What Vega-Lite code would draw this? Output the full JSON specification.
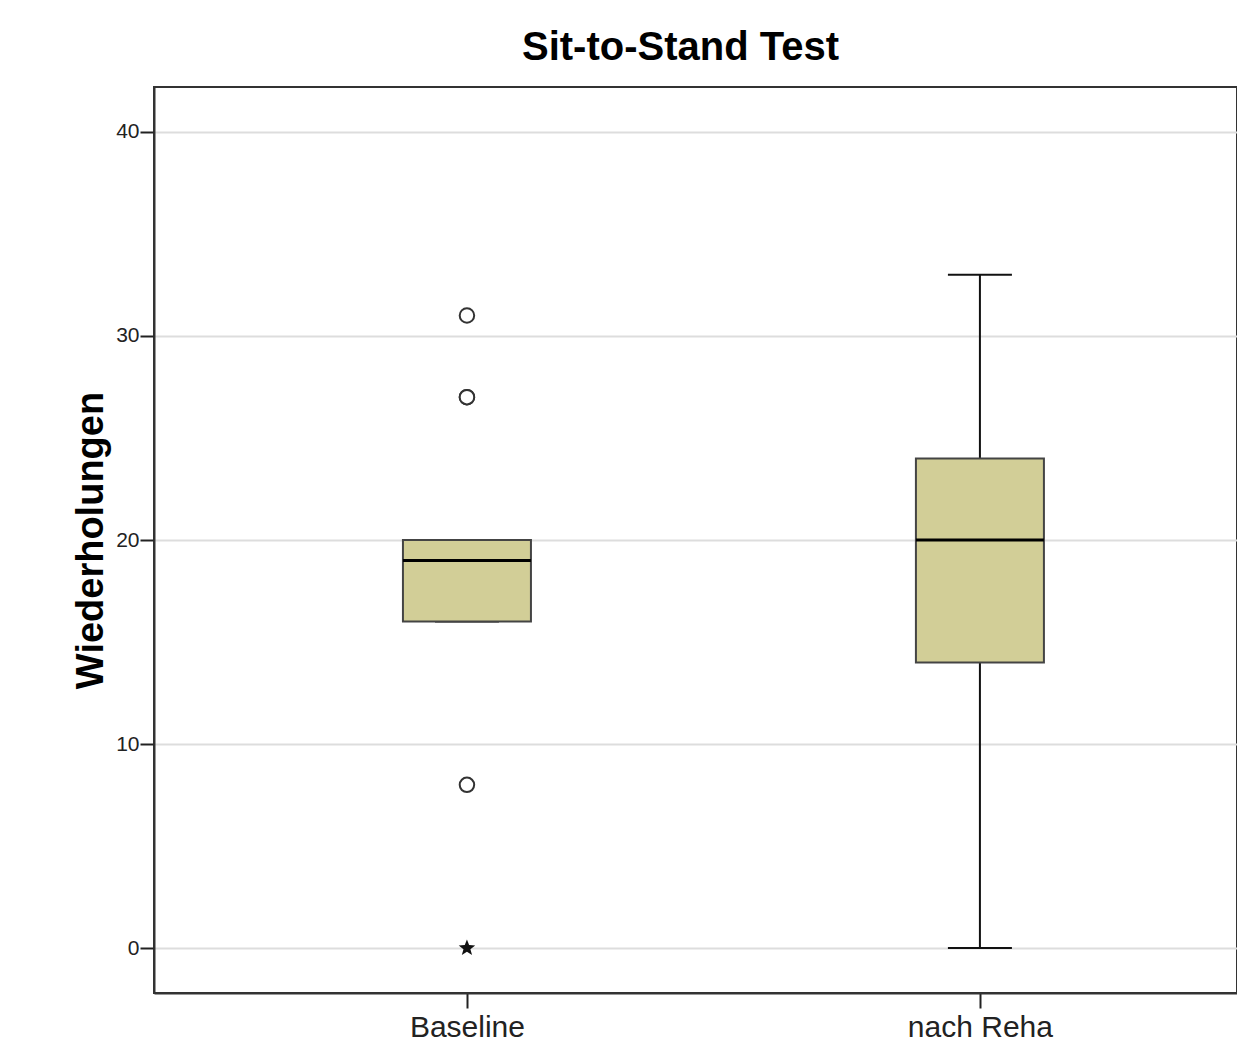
{
  "$schema": "https://vega.github.io/schema/vega-lite/v6.json",
  "autosize": {"type": "none"},
  "padding": {"left": 154, "top": 87, "right": 0, "bottom": 56},
  "width": 1083,
  "height": 906,
  "background": "white",
  "title": {
    "text": "Sit-to-Stand Test",
    "font": "Liberation Sans",
    "fontSize": 40,
    "fontWeight": "bold",
    "color": "#000000",
    "anchor": "middle",
    "baseline": "alphabetic",
    "dx": -15,
    "offset": -13
  },
  "config": {
    "view": {"stroke": "#333333", "strokeWidth": 2},
    "axis": {"labelFont": "Liberation Sans", "titleFont": "Liberation Sans"}
  },
  "datasets": {
    "boxes": [
      {"group": "Baseline", "lower": 16, "q1": 16, "median": 19, "q3": 20, "upper": 20},
      {"group": "nach Reha", "lower": 0, "q1": 14, "median": 20, "q3": 24, "upper": 33}
    ],
    "outliers": [
      {"group": "Baseline", "value": 31, "kind": "Ausreißer"},
      {"group": "Baseline", "value": 27, "kind": "Ausreißer"},
      {"group": "Baseline", "value": 27, "kind": "Ausreißer"},
      {"group": "Baseline", "value": 8, "kind": "Ausreißer"},
      {"group": "Baseline", "value": 0, "kind": "Extremwert"}
    ]
  },
  "encoding": {
    "x": {
      "field": "group",
      "type": "nominal",
      "sort": ["Baseline", "nach Reha"],
      "scale": {"type": "point", "padding": 0.5556, "align": 0.549},
      "axis": {
        "orient": "bottom",
        "title": null,
        "labelAngle": 0,
        "labelFontSize": 30,
        "labelColor": "#222222",
        "labelPadding": 4,
        "tickSize": 15,
        "tickColor": "#222222",
        "tickWidth": 2,
        "domainColor": "#333333",
        "domainWidth": 2,
        "grid": false
      }
    }
  },
  "layer": [
    {
      "data": {"name": "boxes"},
      "mark": {"type": "rule", "color": "#111111", "strokeWidth": 2},
      "encoding": {
        "y": {
          "field": "lower",
          "type": "quantitative",
          "scale": {"domain": [-2.2, 42.2], "nice": false, "zero": false},
          "axis": {
            "orient": "left",
            "title": "Wiederholungen",
            "titleFontSize": 38,
            "titleFontWeight": "bold",
            "titleColor": "#000000",
            "titleBaseline": "alphabetic",
            "titleAngle": -90,
            "titleX": -52,
            "titleY": 453,
            "titleAlign": "center",
            "values": [0, 10, 20, 30, 40],
            "labelFontSize": 21,
            "labelColor": "#222222",
            "labelPadding": 1,
            "tickSize": 14,
            "tickColor": "#222222",
            "tickWidth": 2,
            "domainColor": "#333333",
            "domainWidth": 2,
            "grid": true,
            "gridColor": "#dddddd",
            "gridWidth": 2
          }
        },
        "y2": {"field": "upper"}
      }
    },
    {
      "data": {"name": "boxes"},
      "mark": {"type": "tick", "color": "#111111", "size": 64, "thickness": 2, "opacity": 1},
      "encoding": {"y": {"field": "lower", "type": "quantitative"}}
    },
    {
      "data": {"name": "boxes"},
      "mark": {"type": "tick", "color": "#111111", "size": 64, "thickness": 2, "opacity": 1},
      "encoding": {"y": {"field": "upper", "type": "quantitative"}}
    },
    {
      "data": {"name": "boxes"},
      "mark": {"type": "bar", "size": 128, "fill": "#d2ce97", "stroke": "#444444", "strokeWidth": 2, "opacity": 1},
      "encoding": {
        "y": {"field": "q1", "type": "quantitative"},
        "y2": {"field": "q3"}
      }
    },
    {
      "data": {"name": "boxes"},
      "mark": {"type": "tick", "color": "#000000", "size": 128, "thickness": 3, "opacity": 1},
      "encoding": {"y": {"field": "median", "type": "quantitative"}}
    },
    {
      "data": {"name": "outliers"},
      "transform": [{"filter": "datum.kind === 'Ausreißer'"}],
      "mark": {"type": "point", "shape": "circle", "filled": false, "fill": "#ffffff", "stroke": "#333333", "strokeWidth": 2, "size": 210, "opacity": 1},
      "encoding": {"y": {"field": "value", "type": "quantitative"}}
    },
    {
      "data": {"name": "outliers"},
      "transform": [{"filter": "datum.kind === 'Extremwert'"}],
      "mark": {"type": "point", "shape": "M0,-1L0.25,-0.35L0.95,-0.31L0.4,0.13L0.59,0.81L0,0.42L-0.59,0.81L-0.4,0.13L-0.95,-0.31L-0.25,-0.35Z", "filled": true, "color": "#111111", "size": 300, "opacity": 1},
      "encoding": {"y": {"field": "value", "type": "quantitative"}}
    }
  ]
}
